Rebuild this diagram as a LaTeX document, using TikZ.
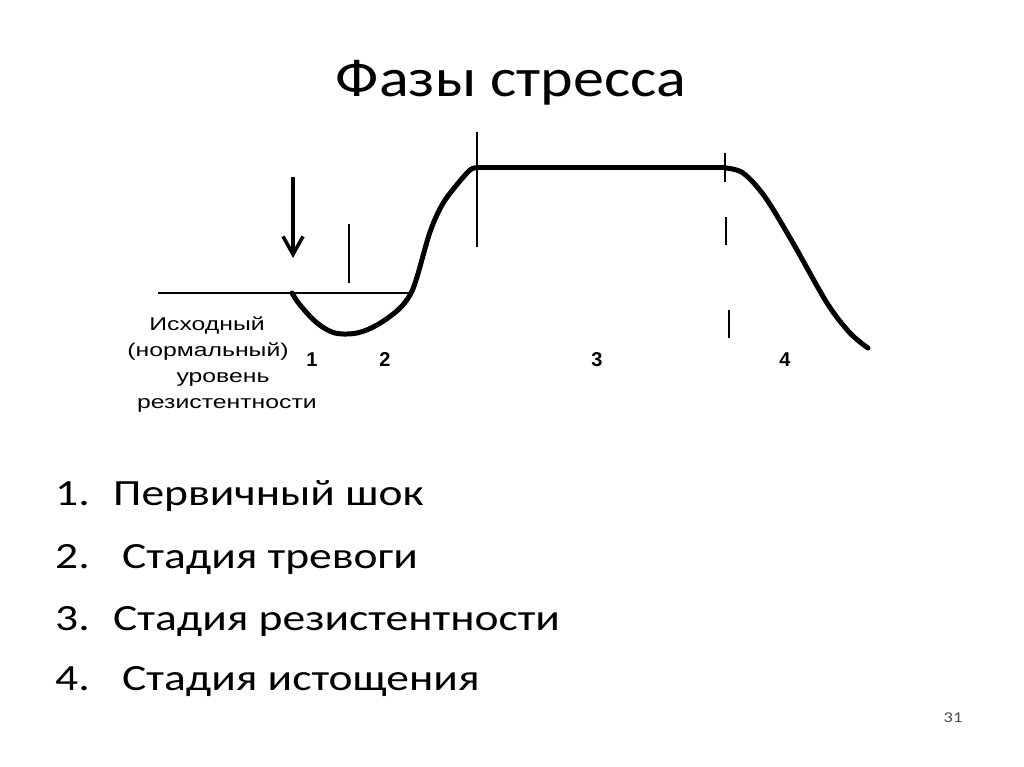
\documentclass[tikz,border=0pt]{standalone}
\usepackage{fontspec}
\setmainfont{Carlito}
\newfontfamily\arialf{Liberation Sans}
\usetikzlibrary{arrows.meta}
\newcommand{\wide}[1]{\scalebox{1.23}[1]{#1}}
\tikzset{
  curve/.style={line width=5pt, line cap=round, line join=round},
  thinmark/.style={line width=1.5pt},
  baseline/.style={line width=2pt},
  graphtxt/.style={font=\arialf\fontsize{18.5}{20}\selectfont, inner sep=0pt, anchor=base},
  stagenum/.style={font=\arialf\bfseries\fontsize{20}{22}\selectfont, inner sep=0pt, anchor=base},
  listtxt/.style={font=\fontsize{37}{44}\selectfont, inner sep=0pt, anchor=base west},
}
\begin{document}
\begin{tikzpicture}[x=1pt,y=-1pt]
\useasboundingbox[fill=white] (0,0) rectangle (1024,767);
% title
\node[font=\fontsize{54}{60}\selectfont, inner sep=0pt, anchor=base] (title) at (511,97) {\scalebox{1.15}[1]{Фазы стресса}};
% baseline level
\coordinate (b0) at (158,293);
\coordinate (b1) at (411,293);
\draw[baseline] (b0) -- (b1);
% curve
\draw[curve] plot[smooth, tension=0.55] coordinates {(292,293) (300,305) (317,323) (335,333) (357,333) (377,325) (398,310) (410,295) (417,277) (430,232) (442,205) (455,187) (470,170) (477,168)};
\coordinate (p0) at (477,168);
\coordinate (p1) at (725,168);
\draw[curve] (p0) -- (p1);
\draw[curve] plot[smooth, tension=0.55] coordinates {(725,168) (743,173) (765,197) (793,243) (827,303) (850,333) (868,348)};
% marks
\coordinate (m1a) at (477,132); \coordinate (m1b) at (477,247);
\draw[thinmark] (m1a) -- (m1b);
\coordinate (m2a) at (349,224); \coordinate (m2b) at (349,283);
\draw[thinmark] (m2a) -- (m2b);
\coordinate (m3a) at (725,153); \coordinate (m3b) at (725,182);
\draw[thinmark] (m3a) -- (m3b);
\coordinate (m4a) at (726,217); \coordinate (m4b) at (726,245);
\draw[thinmark] (m4a) -- (m4b);
\coordinate (m5a) at (729,310); \coordinate (m5b) at (729,338);
\draw[thinmark] (m5a) -- (m5b);
% arrow
\coordinate (arS) at (293,177);
\coordinate (arE) at (293,258);
\draw[line width=3.5pt, -{Straight Barb[length=18pt,width=20pt]}] (arS) -- (arE);
% graph text
\node[graphtxt] (t1) at (207,330) {\scalebox{1.34}[1]{Исходный}};
\node[graphtxt] (t2) at (208,356) {\scalebox{1.34}[1]{(нормальный)}};
\node[graphtxt] (t3) at (223,382) {\scalebox{1.34}[1]{уровень}};
\node[graphtxt] (t4) at (227,408) {\scalebox{1.34}[1]{резистентности}};
% stage numbers
\node[stagenum] (n1) at (312,366) {1};
\node[stagenum] (n2) at (385,366) {2};
\node[stagenum] (n3) at (597,366) {3};
\node[stagenum] (n4) at (785,366) {4};
% list
\node[listtxt] (l1n) at (55,505) {\wide{1.}};
\node[listtxt] (l1) at (113,505) {\wide{Первичный шок}};
\node[listtxt] (l2n) at (55,568) {\wide{2.}};
\node[listtxt] (l2) at (122,568) {\wide{Стадия тревоги}};
\node[listtxt] (l3n) at (55,630) {\wide{3.}};
\node[listtxt] (l3) at (113,630) {\wide{Стадия резистентности}};
\node[listtxt] (l4n) at (55,690) {\wide{4.}};
\node[listtxt] (l4) at (122,690) {\wide{Стадия истощения}};
% page number
\node[font=\fontsize{15}{18}\selectfont, text=black!70, inner sep=0pt, anchor=base] (pg) at (953,722) {\wide{31}};
\end{tikzpicture}
\end{document}
